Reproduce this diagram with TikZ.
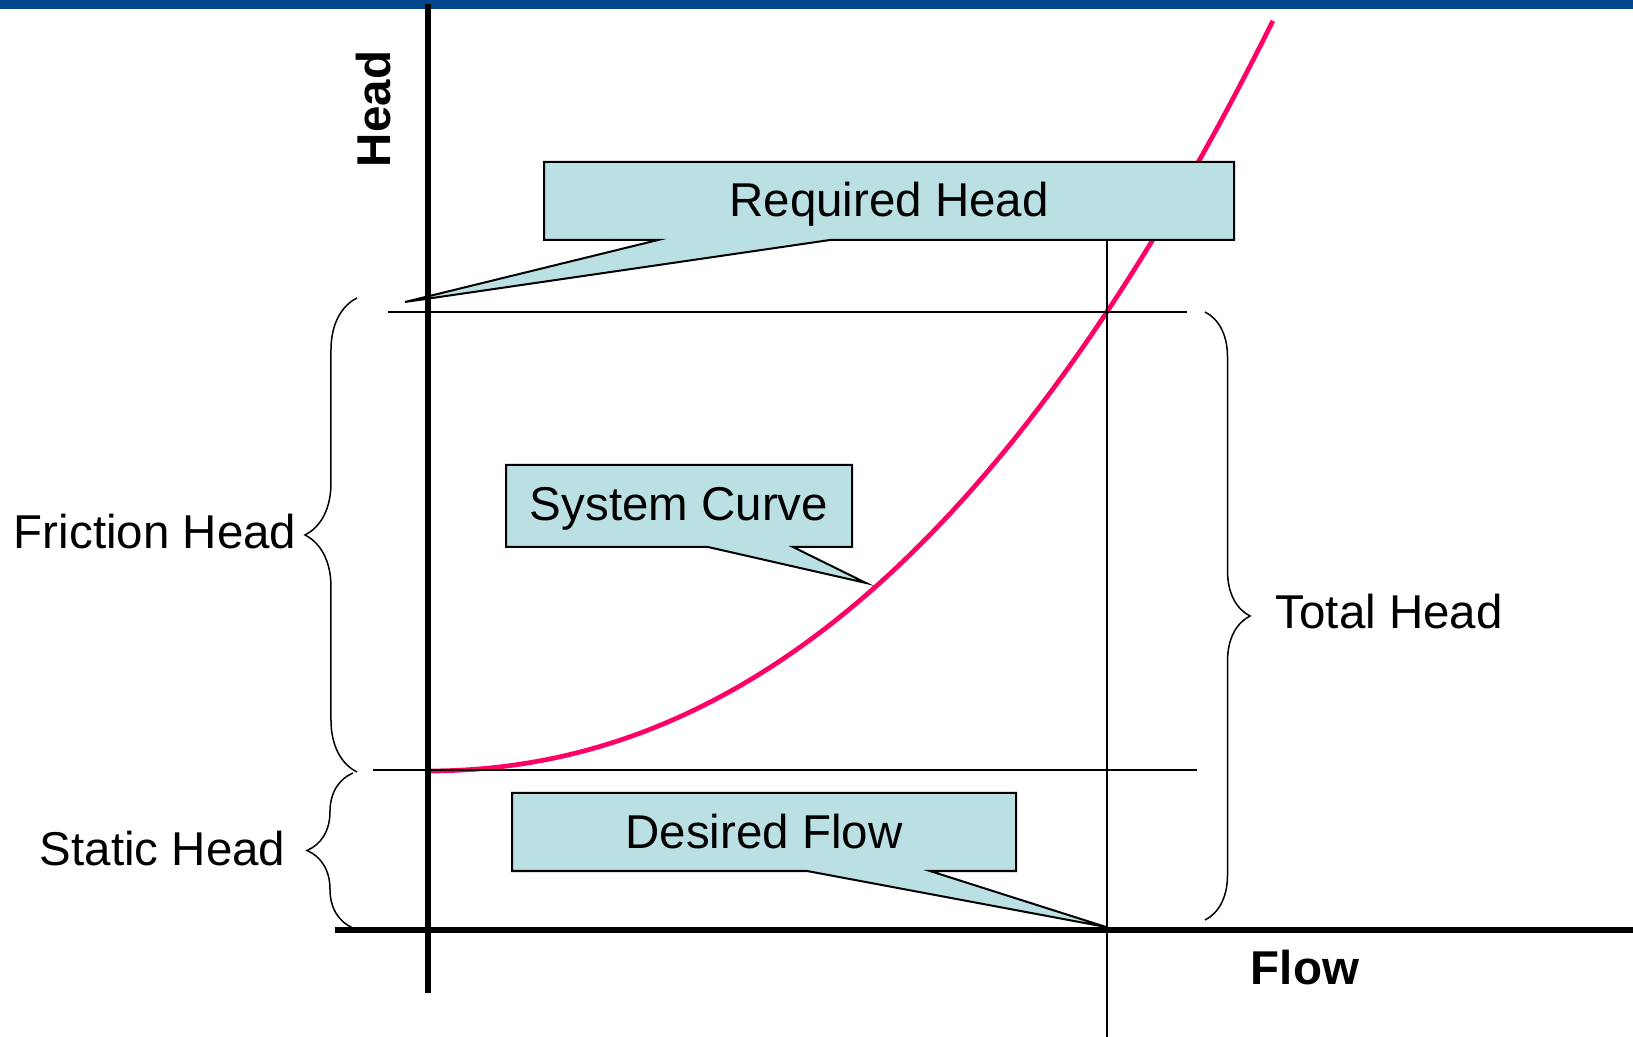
\documentclass[tikz,border=0pt]{standalone}
\usepackage{fontspec}
\setmainfont{Liberation Sans}
\usepackage{xcolor}
\usetikzlibrary{positioning,decorations.pathreplacing}
\definecolor{topbar}{RGB}{2,71,142}
\definecolor{calloutfill}{RGB}{187,224,227}
\definecolor{curvered}{RGB}{255,0,102}

\begin{document}
\begin{tikzpicture}[x=0.01cm, y=-0.01cm,
    callout/.style={draw=black, fill=calloutfill, line width=0.02cm, line join=miter},
    axisline/.style={line width=0.06cm},
    thinline/.style={line width=0.015cm},
    headbrace/.style={decorate, decoration={brace, amplitude=#1}, line width=0.015cm},
    txt/.style={inner sep=0pt, font=\fontsize{13.5}{16}\selectfont}]
    \useasboundingbox (0,0) rectangle (1633,1037);
    \fill[topbar] (0,0) rectangle (1633,9);

    % system curve and guide lines
    \draw[curvered, line width=0.047cm] plot[domain=0:8.45, samples=80]
        ({428+100*\x}, {771-7.72*\x*\x-0.33*\x*\x*\x});
    \draw[thinline] (388,312) -- (1187,312);
    \draw[thinline] (373,770) -- (1197,770);
    \draw[thinline] (1107,240) -- (1107,1037);

    % callouts
    \coordinate (reqtip) at (405,302);
    \coordinate (systip) at (866,583);
    \coordinate (flowtip) at (1106,927);
    \draw[callout] (544,162) -- (1234,162) -- (1234,240) -- (830,240) -- (reqtip)
        -- (658,240) -- (544,240) -- cycle;
    \draw[callout] (506,465) -- (852,465) -- (852,547) -- (793,547) -- (systip)
        -- (708,547) -- (506,547) -- cycle;
    \draw[callout] (512,793) -- (1016,793) -- (1016,871) -- (930,871) -- (flowtip)
        -- (807,871) -- (512,871) -- cycle;
    \node[txt, anchor=base] at (889,217) (reqhead) {Required Head};
    \node[txt, anchor=base] at (679,521) (syscurve) {System Curve};
    \node[txt, anchor=base] at (764,849) (desflow) {Desired Flow};

    % axes
    \draw[axisline] (428,4) -- (428,993);
    \draw[axisline] (335,930) -- (1633,930);
    \node[txt, anchor=base, rotate=90, font=\fontsize{13.5}{16}\selectfont\bfseries] at (390,109) (headaxis) {Head};
    \node[txt, anchor=base, font=\fontsize{13.5}{16}\selectfont\bfseries] at (1305,984) (flowaxis) {Flow};

    % braces
    \draw[headbrace=0.52cm] (357,772) -- (357,298);
    \draw[headbrace=0.46cm] (353,928) -- (353,773);
    \draw[headbrace=0.45cm] (1205,312) -- (1205,920);
    \node[txt, anchor=base east] at (297,549) (friction) {Friction Head};
    \node[txt, anchor=base east] at (286,866) (static) {Static Head};
    \node[txt, anchor=base west] at (1275,629) (total) {Total Head};
\end{tikzpicture}
\end{document}
